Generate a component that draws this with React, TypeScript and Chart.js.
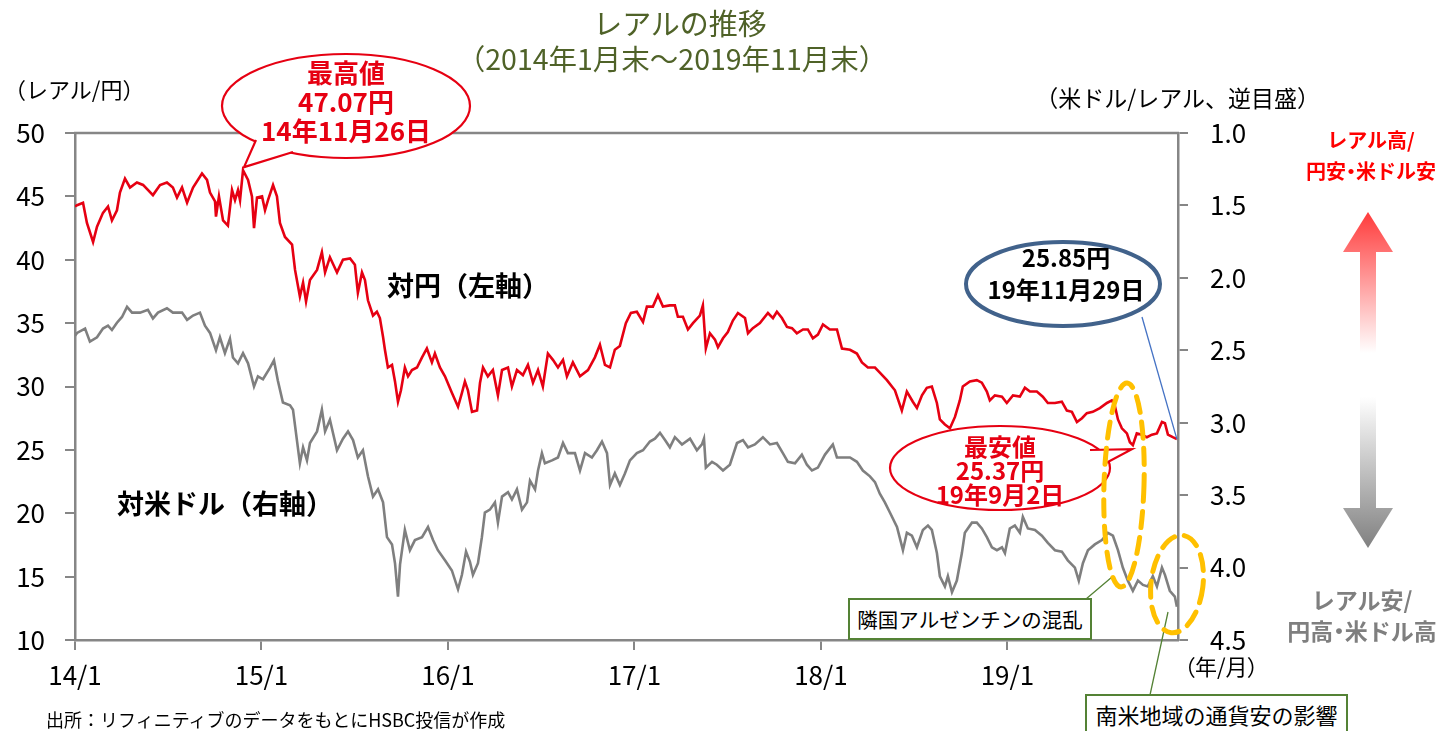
import React, { useEffect, useRef } from "react";
import { Chart, registerables } from "chart.js";

Chart.register(...registerables);

// x: years elapsed since 2014/1 (tick "14/1" = 0)
const xTickLabels = ["14/1", "15/1", "16/1", "17/1", "18/1", "19/1"];
const leftTicks = [10, 15, 20, 25, 30, 35, 40, 45, 50];
const rightTicks = [1.0, 1.5, 2.0, 2.5, 3.0, 3.5, 4.0, 4.5];

// BRL/JPY (left axis)
const jpyT = [0, 0.011, 0.043, 0.064, 0.097, 0.118, 0.15, 0.177, 0.198, 0.225, 0.241, 0.268, 0.295, 0.332, 0.365, 0.418, 0.456, 0.493, 0.525, 0.547, 0.574, 0.601, 0.633, 0.681, 0.708, 0.724, 0.751, 0.756, 0.772, 0.794, 0.82, 0.842, 0.858, 0.874, 0.885, 0.901, 0.928, 0.949, 0.96, 0.976, 1.003, 1.019, 1.035, 1.062, 1.083, 1.099, 1.126, 1.164, 1.18, 1.206, 1.223, 1.239, 1.26, 1.298, 1.324, 1.341, 1.367, 1.405, 1.437, 1.475, 1.501, 1.517, 1.539, 1.555, 1.571, 1.598, 1.619, 1.635, 1.652, 1.662, 1.678, 1.7, 1.716, 1.732, 1.748, 1.769, 1.786, 1.807, 1.834, 1.861, 1.887, 1.914, 1.93, 1.957, 1.984, 2.021, 2.054, 2.075, 2.091, 2.107, 2.129, 2.156, 2.172, 2.188, 2.214, 2.241, 2.268, 2.29, 2.322, 2.343, 2.37, 2.402, 2.429, 2.456, 2.483, 2.509, 2.536, 2.563, 2.59, 2.617, 2.638, 2.67, 2.708, 2.751, 2.788, 2.815, 2.842, 2.869, 2.895, 2.922, 2.954, 2.981, 3.013, 3.046, 3.067, 3.099, 3.126, 3.153, 3.19, 3.217, 3.233, 3.26, 3.287, 3.314, 3.351, 3.367, 3.383, 3.405, 3.432, 3.448, 3.475, 3.501, 3.528, 3.555, 3.593, 3.609, 3.635, 3.673, 3.716, 3.743, 3.764, 3.791, 3.818, 3.845, 3.871, 3.904, 3.93, 3.957, 3.984, 4.011, 4.048, 4.086, 4.113, 4.156, 4.193, 4.22, 4.252, 4.29, 4.316, 4.354, 4.386, 4.397, 4.434, 4.461, 4.493, 4.515, 4.542, 4.568, 4.595, 4.622, 4.638, 4.665, 4.692, 4.719, 4.745, 4.761, 4.799, 4.836, 4.863, 4.89, 4.906, 4.933, 4.971, 4.997, 5.03, 5.067, 5.094, 5.121, 5.158, 5.19, 5.217, 5.255, 5.292, 5.319, 5.346, 5.373, 5.4, 5.426, 5.458, 5.496, 5.534, 5.56, 5.576, 5.593, 5.614, 5.641, 5.657, 5.673, 5.694, 5.721, 5.748, 5.775, 5.802, 5.829, 5.845, 5.861, 5.887, 5.909];
const jpyV = [44.2, 44.3, 44.5, 42.9, 41.4, 42.6, 43.7, 44.2, 43.1, 43.9, 45.3, 46.4, 45.7, 46.1, 45.9, 45.1, 45.9, 46.1, 45.7, 44.9, 45.7, 44.5, 45.7, 46.8, 46.3, 45.3, 44.6, 43.4, 45.0, 43.1, 42.7, 45.5, 44.7, 45.5, 44.7, 47.07, 46.3, 45.0, 42.5, 44.9, 45.0, 43.9, 44.7, 45.9, 45.0, 42.9, 41.8, 41.2, 39.2, 37.1, 38.2, 36.7, 38.4, 39.2, 40.6, 39.0, 40.2, 39.0, 40.0, 40.1, 39.6, 37.4, 39.0, 38.4, 36.8, 35.6, 35.9, 35.4, 33.9, 32.9, 31.5, 31.7, 30.4, 28.8, 29.7, 31.5, 30.8, 31.3, 31.5, 32.3, 33.0, 31.9, 32.6, 31.5, 30.8, 29.5, 28.4, 29.5, 30.4, 29.7, 28.0, 28.1, 30.3, 31.5, 30.8, 31.3, 29.3, 31.3, 31.5, 30.0, 31.3, 30.9, 31.7, 30.3, 31.3, 30.0, 32.6, 32.1, 31.5, 32.1, 30.8, 31.9, 30.8, 31.3, 32.3, 33.3, 31.7, 31.5, 32.9, 33.2, 35.0, 35.8, 35.9, 35.1, 36.3, 36.3, 37.2, 36.3, 36.4, 36.4, 35.5, 35.5, 34.5, 35.0, 35.6, 36.4, 33.0, 34.2, 33.7, 33.1, 33.8, 34.3, 35.2, 35.8, 35.4, 34.2, 34.6, 35.0, 35.8, 35.4, 35.9, 35.4, 34.7, 34.6, 34.2, 34.5, 34.5, 33.8, 34.1, 34.9, 34.5, 34.5, 33.0, 32.9, 32.6, 31.9, 31.5, 31.5, 31.1, 30.5, 29.9, 29.7, 28.1, 29.6, 28.8, 28.3, 29.3, 29.9, 30.0, 28.7, 27.4, 27.0, 26.7, 27.6, 28.9, 30.0, 30.4, 30.5, 30.3, 29.6, 28.9, 29.3, 29.2, 28.7, 29.3, 29.2, 29.9, 29.6, 29.6, 29.2, 28.7, 28.7, 28.8, 28.1, 28.0, 27.2, 27.5, 27.9, 28.0, 28.3, 28.7, 28.9, 28.5, 27.4, 26.7, 26.3, 25.6, 25.37, 26.3, 26.2, 26.0, 26.2, 26.3, 27.2, 27.1, 26.2, 26.0, 25.85];

// USD/BRL (right axis, reversed)
const usdT = [0, 0.011, 0.054, 0.08, 0.118, 0.15, 0.177, 0.198, 0.225, 0.252, 0.279, 0.306, 0.349, 0.391, 0.418, 0.445, 0.493, 0.525, 0.574, 0.601, 0.633, 0.67, 0.697, 0.724, 0.756, 0.777, 0.804, 0.831, 0.847, 0.874, 0.901, 0.928, 0.96, 0.981, 1.008, 1.046, 1.067, 1.088, 1.115, 1.153, 1.169, 1.19, 1.206, 1.223, 1.244, 1.26, 1.298, 1.324, 1.341, 1.367, 1.405, 1.437, 1.464, 1.491, 1.517, 1.544, 1.571, 1.598, 1.625, 1.652, 1.673, 1.7, 1.716, 1.732, 1.743, 1.769, 1.796, 1.823, 1.861, 1.893, 1.92, 1.946, 1.984, 2.021, 2.054, 2.075, 2.097, 2.118, 2.134, 2.161, 2.182, 2.198, 2.225, 2.252, 2.268, 2.29, 2.322, 2.343, 2.37, 2.397, 2.424, 2.44, 2.467, 2.483, 2.504, 2.52, 2.558, 2.59, 2.617, 2.643, 2.681, 2.708, 2.735, 2.772, 2.799, 2.826, 2.853, 2.869, 2.895, 2.922, 2.949, 2.976, 3.013, 3.046, 3.083, 3.11, 3.137, 3.164, 3.19, 3.217, 3.255, 3.298, 3.335, 3.362, 3.373, 3.383, 3.416, 3.442, 3.475, 3.512, 3.55, 3.582, 3.609, 3.646, 3.689, 3.727, 3.764, 3.796, 3.823, 3.861, 3.898, 3.925, 3.952, 3.984, 4.022, 4.064, 4.086, 4.118, 4.156, 4.193, 4.225, 4.263, 4.29, 4.316, 4.343, 4.37, 4.408, 4.44, 4.461, 4.488, 4.515, 4.547, 4.574, 4.595, 4.622, 4.638, 4.665, 4.681, 4.703, 4.729, 4.756, 4.772, 4.81, 4.836, 4.863, 4.89, 4.917, 4.944, 4.971, 4.987, 5.013, 5.04, 5.067, 5.083, 5.11, 5.148, 5.185, 5.217, 5.255, 5.292, 5.324, 5.362, 5.383, 5.405, 5.432, 5.469, 5.507, 5.539, 5.566, 5.593, 5.619, 5.646, 5.673, 5.7, 5.727, 5.753, 5.78, 5.802, 5.829, 5.845, 5.871, 5.898, 5.909];
const usdV = [2.40, 2.38, 2.35, 2.44, 2.41, 2.35, 2.33, 2.36, 2.31, 2.27, 2.20, 2.24, 2.24, 2.22, 2.28, 2.24, 2.21, 2.24, 2.24, 2.29, 2.26, 2.24, 2.33, 2.38, 2.50, 2.41, 2.52, 2.42, 2.55, 2.59, 2.52, 2.59, 2.75, 2.68, 2.70, 2.62, 2.57, 2.71, 2.86, 2.88, 2.91, 3.12, 3.28, 3.17, 3.26, 3.14, 3.06, 2.91, 3.06, 2.98, 3.19, 3.11, 3.06, 3.12, 3.24, 3.19, 3.37, 3.51, 3.46, 3.55, 3.79, 3.84, 3.97, 4.20, 3.98, 3.74, 3.88, 3.81, 3.79, 3.72, 3.81, 3.88, 3.95, 4.02, 4.15, 4.05, 3.89, 3.96, 4.05, 3.97, 3.79, 3.62, 3.60, 3.55, 3.69, 3.51, 3.48, 3.53, 3.46, 3.60, 3.55, 3.40, 3.46, 3.33, 3.21, 3.28, 3.26, 3.24, 3.14, 3.21, 3.21, 3.33, 3.21, 3.24, 3.19, 3.13, 3.21, 3.43, 3.35, 3.43, 3.35, 3.26, 3.21, 3.19, 3.13, 3.11, 3.07, 3.12, 3.17, 3.10, 3.15, 3.11, 3.19, 3.15, 3.11, 3.31, 3.27, 3.29, 3.33, 3.29, 3.14, 3.12, 3.17, 3.15, 3.10, 3.15, 3.14, 3.21, 3.27, 3.28, 3.22, 3.29, 3.33, 3.31, 3.22, 3.15, 3.24, 3.24, 3.24, 3.27, 3.33, 3.37, 3.41, 3.49, 3.55, 3.62, 3.72, 3.88, 3.76, 3.78, 3.86, 3.74, 3.71, 3.74, 3.90, 4.06, 4.13, 4.06, 4.17, 4.09, 3.90, 3.76, 3.69, 3.69, 3.73, 3.79, 3.86, 3.88, 3.86, 3.90, 3.73, 3.71, 3.76, 3.65, 3.73, 3.74, 3.78, 3.83, 3.88, 3.89, 3.95, 4.00, 4.09, 3.97, 3.88, 3.84, 3.81, 3.76, 3.78, 3.88, 4.00, 4.09, 4.16, 4.09, 4.12, 4.13, 4.06, 4.13, 4.00, 4.05, 4.16, 4.20, 4.27];

// annotated points
const peakPoint = { t: 0.901, v: 47.07 };
const lowPoint = { t: 5.673, v: 25.37 };

const JP = "'Noto Sans CJK JP', 'Noto Sans', sans-serif";
const AXIS_GRAY = "#868686";

function ellipsePath(ctx: CanvasRenderingContext2D, cx: number, cy: number, rx: number, ry: number, rot = 0) {
  ctx.beginPath();
  ctx.ellipse(cx, cy, rx, ry, rot, 0, Math.PI * 2);
}

function callout(
  ctx: CanvasRenderingContext2D,
  cx: number, cy: number, rx: number, ry: number,
  a: [number, number], tip: [number, number], b: [number, number],
  color: string, lw: number
) {
  ellipsePath(ctx, cx, cy, rx, ry);
  ctx.fillStyle = "#ffffff";
  ctx.fill();
  ctx.strokeStyle = color;
  ctx.lineWidth = lw;
  ctx.stroke();
  ctx.beginPath();
  ctx.moveTo(a[0], a[1]);
  ctx.lineTo(tip[0], tip[1]);
  ctx.lineTo(b[0], b[1]);
  ctx.closePath();
  ctx.fill();
  ctx.beginPath();
  ctx.moveTo(a[0], a[1]);
  ctx.lineTo(tip[0], tip[1]);
  ctx.lineTo(b[0], b[1]);
  ctx.stroke();
}

const annotPlugin = {
  id: "annot",
  afterDraw(chart: any) {
    const { ctx, chartArea: ca, scales } = chart;
    const sx = scales.x, sl = scales.yL;
    ctx.save();
    // top frame line
    ctx.strokeStyle = AXIS_GRAY;
    ctx.lineWidth = 2.5;
    ctx.beginPath();
    ctx.moveTo(ca.left - 1, ca.top);
    ctx.lineTo(ca.right + 1, ca.top);
    ctx.stroke();

    // peak callout
    const px = sx.getPixelForValue(peakPoint.t);
    const py = sl.getPixelForValue(peakPoint.v);
    callout(ctx, 346, 106, 124, 52, [256, 140], [px + 1, py - 3], [293, 152], "#E60012", 2.2);

    // low callout
    const lx = sx.getPixelForValue(lowPoint.t);
    const ly = sl.getPixelForValue(lowPoint.v);
    callout(ctx, 1000, 468, 110, 42, [1090, 450], [lx - 1, ly + 4], [1106, 463], "#E60012", 2.2);

    // latest value ellipse + leader
    const lastX = sx.getPixelForValue(jpyT[jpyT.length - 1]);
    const lastY = sl.getPixelForValue(jpyV[jpyV.length - 1]);
    ctx.strokeStyle = "#4472C4";
    ctx.lineWidth = 1.3;
    ctx.beginPath();
    ctx.moveTo(1142, 317);
    ctx.lineTo(lastX, lastY);
    ctx.stroke();
    ellipsePath(ctx, 1063, 284, 97, 42);
    ctx.fillStyle = "#ffffff";
    ctx.fill();
    ctx.strokeStyle = "#41628B";
    ctx.lineWidth = 4;
    ctx.stroke();

    // green leader lines
    ctx.strokeStyle = "#548235";
    ctx.lineWidth = 1.3;
    ctx.beginPath();
    ctx.moveTo(1086, 599);
    ctx.lineTo(1112, 577);
    ctx.moveTo(1150, 695);
    ctx.lineTo(1168, 612);
    ctx.stroke();

    // dashed yellow ellipses
    ctx.strokeStyle = "#FFC000";
    ctx.lineWidth = 5;
    ctx.setLineDash([16, 10]);
    ctx.lineCap = "round";
    ellipsePath(ctx, 1124, 485, 20, 102, 0.03);
    ctx.stroke();
    ellipsePath(ctx, 1177, 584, 26, 49, 0.12);
    ctx.stroke();
    ctx.setLineDash([]);
    ctx.lineCap = "butt";

    // gradient double arrow
    const ax = 1368, top = 212, bot = 548, hh = 40, hw = 25, sw = 8;
    const g = ctx.createLinearGradient(0, top, 0, bot);
    g.addColorStop(0, "#FF3B3B");
    g.addColorStop(0.42, "#FFFFFF");
    g.addColorStop(0.55, "#FFFFFF");
    g.addColorStop(1, "#808080");
    ctx.fillStyle = g;
    ctx.beginPath();
    ctx.moveTo(ax, top);
    ctx.lineTo(ax + hw, top + hh);
    ctx.lineTo(ax + sw, top + hh);
    ctx.lineTo(ax + sw, bot - hh);
    ctx.lineTo(ax + hw, bot - hh);
    ctx.lineTo(ax, bot);
    ctx.lineTo(ax - hw, bot - hh);
    ctx.lineTo(ax - sw, bot - hh);
    ctx.lineTo(ax - sw, top + hh);
    ctx.lineTo(ax - hw, top + hh);
    ctx.closePath();
    ctx.fill();
    ctx.restore();
  },
};

const txt = (extra: React.CSSProperties): React.CSSProperties => ({
  position: "absolute",
  whiteSpace: "nowrap",
  fontFamily: JP,
  ...extra,
});

const PALT: React.CSSProperties = { fontFeatureSettings: '"palt"' };

export default function App() {
  const ref = useRef<HTMLCanvasElement | null>(null);

  useEffect(() => {
    if (!ref.current) return;
    const tickFont = { family: JP, size: 26 };
    const chart = new Chart(ref.current, {
      type: "line",
      data: {
        datasets: [
          {
            label: "対米ドル（右軸）",
            data: usdT.map((t, i) => ({ x: t, y: usdV[i] })),
            yAxisID: "yR",
            borderColor: "#7F7F7F",
            borderWidth: 2.6,
            pointRadius: 0,
            tension: 0,
          },
          {
            label: "対円（左軸）",
            data: jpyT.map((t, i) => ({ x: t, y: jpyV[i] })),
            yAxisID: "yL",
            borderColor: "#E60012",
            borderWidth: 2.6,
            pointRadius: 0,
            tension: 0,
          },
        ],
      },
      options: {
        animation: false,
        responsive: false,
        maintainAspectRatio: false,
        layout: { padding: { top: 133, left: 0, right: 0, bottom: 0 } },
        plugins: {
          legend: { display: false },
          tooltip: { enabled: false },
          title: { display: false },
        },
        scales: {
          x: {
            type: "linear",
            min: 0,
            max: 5.915,
            afterBuildTicks: (s: any) => {
              s.ticks = xTickLabels.map((_, i) => ({ value: i }));
            },
            ticks: {
              callback: (v: any) => xTickLabels[Math.round(Number(v))] ?? "",
              font: tickFont,
              color: "#000",
              padding: 10,
              maxRotation: 0,
              autoSkip: false,
            },
            grid: { display: true, drawOnChartArea: false, drawTicks: true, tickLength: 10, color: AXIS_GRAY, lineWidth: 2 },
            border: { display: true, color: AXIS_GRAY, width: 2.5 },
            afterFit: (s: any) => {
              s.height = 91;
            },
          },
          yL: {
            type: "linear",
            position: "left",
            min: 10,
            max: 50,
            afterBuildTicks: (s: any) => {
              s.ticks = leftTicks.map((v) => ({ value: v }));
            },
            ticks: { font: tickFont, color: "#000", padding: 20, callback: (v: any) => String(v) },
            grid: { display: true, drawOnChartArea: false, drawTicks: true, tickLength: 10, color: AXIS_GRAY, lineWidth: 2 },
            border: { display: true, color: AXIS_GRAY, width: 2.5 },
            afterFit: (s: any) => {
              s.width = 75;
            },
          },
          yR: {
            type: "linear",
            position: "right",
            min: 1.0,
            max: 4.5,
            reverse: true,
            afterBuildTicks: (s: any) => {
              s.ticks = rightTicks.map((v) => ({ value: v }));
            },
            ticks: { font: tickFont, color: "#000", padding: 22, callback: (v: any) => Number(v).toFixed(1) },
            grid: { display: true, drawOnChartArea: false, drawTicks: true, tickLength: 10, color: AXIS_GRAY, lineWidth: 2 },
            border: { display: true, color: AXIS_GRAY, width: 2.5 },
            afterFit: (s: any) => {
              s.width = 268;
            },
          },
        },
      },
      plugins: [annotPlugin],
    } as any);
    return () => chart.destroy();
  }, []);

  const titleColor = "#4F6228";
  return (
    <div style={{ position: "absolute", left: 0, top: 0, width: 1446, height: 731, overflow: "hidden", background: "#fff" }}>
      <canvas ref={ref} width={1446} height={731} style={{ position: "absolute", left: 0, top: 0, width: 1446, height: 731 }} />
      <div style={txt({ left: 380, top: 4, width: 600, textAlign: "center", fontSize: 29, lineHeight: "36px", color: titleColor })}>
        レアルの推移
      </div>
      <div style={txt({ left: 372, top: 40, width: 600, textAlign: "center", fontSize: 28.5, lineHeight: "36px", color: titleColor })}>
        （2014年1月末～2019年11月末）
      </div>
      <div style={txt({ left: 4, top: 73, fontSize: 22, lineHeight: "30px", color: "#000" })}>（レアル/円）</div>
      <div style={txt({ left: 1018, top: 82, width: 302, textAlign: "right", fontSize: 23, lineHeight: "30px", color: "#000" })}>（米ドル/レアル、逆目盛）</div>
      <div style={txt({ left: 1184, top: 650, fontSize: 22, lineHeight: "30px", color: "#000", ...PALT })}>（年/月）</div>
      <div style={txt({ left: 46, top: 706, fontSize: 18, lineHeight: "26px", color: "#000" })}>出所：リフィニティブのデータをもとにHSBC投信が作成</div>

      <div style={txt({ left: 246, top: 57, width: 200, textAlign: "center", fontSize: 26, lineHeight: "29px", fontWeight: 700, color: "#E60012" })}>
        最高値
        <br />
        47.07円
        <br />
        14年11月26日
      </div>
      <div style={txt({ left: 966, top: 241, width: 200, textAlign: "center", fontSize: 24, lineHeight: "32px", fontWeight: 700, color: "#000" })}>
        25.85円
        <br />
        19年11月29日
      </div>
      <div style={txt({ left: 900, top: 434, width: 200, textAlign: "center", fontSize: 24, lineHeight: "24px", fontWeight: 700, color: "#E60012" })}>
        最安値
        <br />
        25.37円
        <br />
        19年9月2日
      </div>

      <div style={txt({ left: 387, top: 267, fontSize: 27, lineHeight: "36px", fontWeight: 700, color: "#000" })}>対円（左軸）</div>
      <div style={txt({ left: 117, top: 485, fontSize: 27, lineHeight: "36px", fontWeight: 700, color: "#000" })}>対米ドル（右軸）</div>

      <div style={txt({ left: 1296, top: 124, width: 150, textAlign: "center", fontSize: 20, lineHeight: "31px", fontWeight: 700, color: "#FF0000" })}>
        レアル高/
        <br />
        円安<span style={PALT}>・</span>米ドル安
      </div>
      <div style={txt({ left: 1278, top: 584, width: 168, textAlign: "center", fontSize: 23, lineHeight: "31px", fontWeight: 700, color: "#7F7F7F" })}>
        レアル安/
        <br />
        円高<span style={PALT}>・</span>米ドル高
      </div>

      <div style={txt({ left: 848, top: 598, width: 244, height: 42, boxSizing: "border-box", border: "2px solid #548235", background: "#fff", fontSize: 20.5, lineHeight: "38px", textAlign: "center", color: "#000" })}>
        隣国アルゼンチンの混乱
      </div>
      <div style={txt({ left: 1085, top: 694, width: 263, height: 42, boxSizing: "border-box", border: "2px solid #548235", background: "#fff", fontSize: 22, lineHeight: "36px", textAlign: "center", color: "#000" })}>
        南米地域の通貨安の影響
      </div>
    </div>
  );
}
